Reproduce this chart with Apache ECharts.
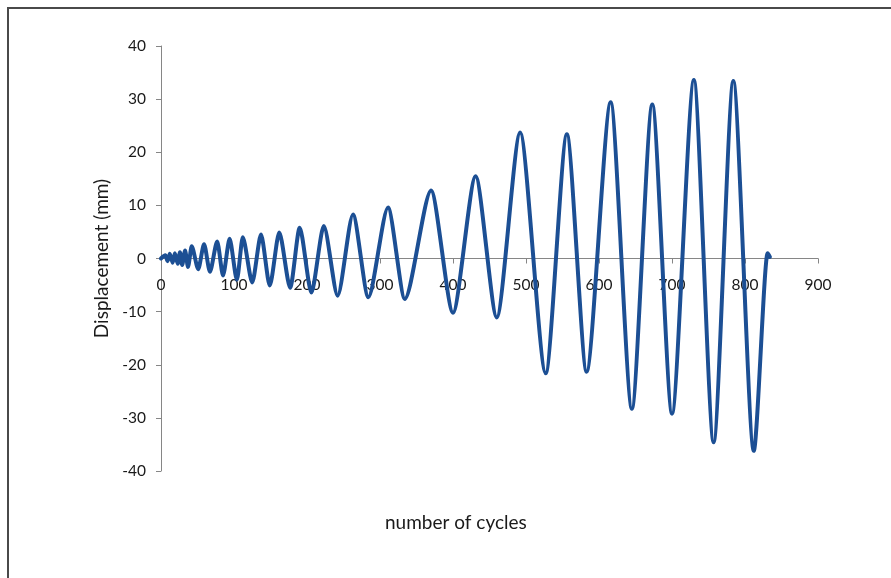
<!DOCTYPE html>
<html>
<head>
<meta charset="utf-8">
<script src="https://cdn.jsdelivr.net/npm/echarts@6/dist/echarts.min.js"></script>
<style>
  html, body { margin: 0; padding: 0; background: #ffffff; }
  #chart { width: 891px; height: 578px; }
</style>
</head>
<body>
<div id="chart"></div>
<script>
// Turning points of the cyclic loading history: cycle count and displacement (mm)
const cycles = [
  0, 6, 9, 12, 16, 19, 23, 26, 29, 33, 37, 42, 51, 59, 67, 77, 85, 94, 104,
  112, 125, 137, 149, 162, 177, 190, 206, 223, 242, 263, 284, 311, 334,
  370, 400, 431, 460, 492, 527, 556, 583, 616, 645, 673, 700, 730, 757,
  784, 812, 831, 834
];
const displacement = [
  0, 0.6, -0.5, 0.9, -0.8, 1.0, -1.0, 1.2, -1.2, 1.5, -1.6, 2.3, -2.0, 2.7,
  -2.5, 3.2, -3.2, 3.7, -4.0, 4.0, -4.5, 4.5, -5.1, 4.9, -5.5, 5.8, -6.4,
  6.1, -7.0, 8.3, -7.3, 9.6, -7.6, 12.8, -10.2, 15.5, -11.1, 23.7, -21.6,
  23.4, -21.3, 29.4, -28.3, 29.0, -29.2, 33.6, -34.6, 33.4, -36.2, 1.0, 0.3
];

const xTicks = { min: 0, max: 900, interval: 100 };
const yTicks = { min: -40, max: 40, interval: 10 };

const seriesData = cycles.map((c, i) => [c, displacement[i]]);

const chart = echarts.init(document.getElementById('chart'), null, { renderer: 'canvas' });

const fontFamily = 'Lato, "Open Sans", "DejaVu Sans", sans-serif';
const axisGray = '#868686';
const textColor = '#1a1a1a';

chart.setOption({
  backgroundColor: '#ffffff',
  animation: false,
  grid: { left: 161, right: 73, top: 46, bottom: 107 },
  xAxis: {
    type: 'value',
    min: xTicks.min,
    max: xTicks.max,
    interval: xTicks.interval,
    axisLine: { onZero: true, lineStyle: { color: axisGray, width: 1 } },
    axisTick: { show: true, length: 5, lineStyle: { color: axisGray } },
    // labels sit just under the zero line rather than at the grid's lower edge
    axisLabel: { margin: -194, color: textColor, fontSize: 15.5, fontFamily: fontFamily },
    splitLine: { show: false }
  },
  yAxis: {
    type: 'value',
    min: yTicks.min,
    max: yTicks.max,
    interval: yTicks.interval,
    name: 'Displacement (mm)',
    nameLocation: 'middle',
    nameGap: 50,
    nameTextStyle: { color: textColor, fontSize: 19, fontFamily: fontFamily },
    axisLine: { show: true, lineStyle: { color: axisGray, width: 1 } },
    axisTick: { show: true, length: 5, lineStyle: { color: axisGray } },
    axisLabel: { margin: 15, color: textColor, fontSize: 15.5, fontFamily: fontFamily },
    splitLine: { show: false }
  },
  series: [{
    type: 'line',
    data: seriesData,
    showSymbol: false,
    smooth: 0.25,
    smoothMonotone: 'x',
    lineStyle: { color: '#1c4f94', width: 4, cap: 'round', join: 'round' },
    itemStyle: { color: '#1c4f94' }
  }],
  graphic: [
    {
      type: 'text',
      left: 385,
      top: 513,
      style: {
        text: 'number of cycles',
        fill: textColor,
        font: '19px ' + fontFamily
      }
    },
    {
      type: 'rect',
      shape: { x: 8, y: 8, width: 900, height: 600 },
      style: { fill: 'none', stroke: '#4a4a4a', lineWidth: 2 },
      silent: true
    }
  ]
});
</script>
</body>
</html>
